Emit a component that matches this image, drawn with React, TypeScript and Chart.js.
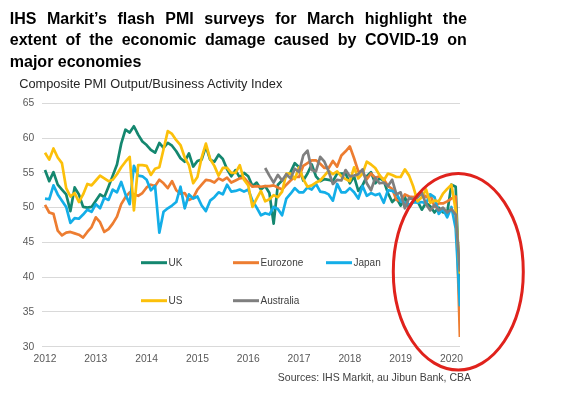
import React, { useEffect, useRef } from 'react';
import { Chart, registerables } from 'chart.js';

Chart.register(...registerables);

// ---- Data (monthly, Jan 2012 = index 0 ... Mar 2020 = index 98) ----
const yearLabels = ['2012', '2013', '2014', '2015', '2016', '2017', '2018', '2019', '2020'];
const yTickValues = [30, 35, 40, 45, 50, 55, 60, 65];

const ukValues = [
  55.4, 53.8, 55.1, 53.3, 52.6, 51.9, 49.5, 52.9, 51.9, 50.1, 50.0, 50.1,
  51.0, 51.9, 51.5, 53.0, 54.6, 56.2, 59.2, 61.2, 60.8, 61.7, 60.5, 59.5,
  59.0, 58.3, 57.9, 59.3, 58.6, 59.3, 58.9, 58.1, 57.1, 56.6, 57.8, 55.9,
  56.7, 56.9, 58.8, 56.9, 56.6, 57.6, 57.0, 55.5, 54.5, 55.4, 54.3, 55.0,
  54.5, 53.1, 53.6, 52.6, 53.1, 52.1, 47.7, 53.3, 53.9, 54.5, 55.1, 56.4,
  55.8, 53.9, 54.9, 56.2, 54.5, 53.8, 54.1, 54.0, 53.8, 54.9, 54.9, 54.9,
  53.5, 54.5, 52.4, 53.2, 54.5, 55.1, 53.5, 54.2, 53.9, 52.1, 50.8, 51.4,
  50.3, 51.5, 50.0, 50.9, 50.9, 49.7, 50.7, 50.2, 49.3, 50.0, 49.3, 49.3,
  53.3, 53.0, 37.1,
];

const eurozoneValues = [
  50.4, 49.3, 49.1, 46.7, 46.0, 46.4, 46.5, 46.3, 46.1, 45.7, 46.5, 47.2,
  48.6, 47.9, 46.5, 46.9, 47.7, 48.7, 50.5, 51.5, 52.2, 51.9, 51.7, 52.1,
  52.9, 53.3, 53.1, 54.0, 53.5, 52.8, 53.8, 52.5, 52.0, 52.1, 51.1, 51.4,
  52.6, 53.3, 54.0, 53.9, 53.6, 54.2, 53.9, 54.3, 53.6, 53.9, 54.2, 54.3,
  53.6, 53.0, 53.1, 53.0, 53.1, 53.1, 53.2, 52.9, 52.6, 53.3, 53.9, 54.4,
  54.4, 56.0, 56.4, 56.8, 56.8, 56.3, 55.7, 55.7, 56.7, 55.9, 57.5, 58.1,
  58.8, 57.1, 55.2, 55.1, 54.1, 54.9, 54.3, 54.5, 54.1, 53.1, 52.7, 51.1,
  51.0, 51.9, 51.6, 51.5, 51.8, 52.2, 51.5, 51.9, 50.1, 50.6, 50.6, 50.9,
  51.3, 51.6, 31.4,
];

const japanValues = [
  51.3, 51.2, 53.2, 51.9, 51.0, 50.1, 47.8, 48.5, 48.4, 49.0, 49.7, 49.4,
  50.5, 49.9, 51.4, 51.1, 52.6, 52.2, 53.7, 51.9, 50.5, 56.0, 54.6, 54.5,
  54.0, 52.5, 53.1, 46.4, 49.4, 49.9, 50.3, 50.8, 53.0, 49.9, 51.9, 51.3,
  51.6, 50.3, 49.5, 51.0, 51.5, 52.2, 51.9, 53.3, 52.3, 52.4, 52.6, 52.3,
  52.6, 51.0, 50.0, 48.9, 49.2, 49.0, 50.1, 49.8, 48.9, 51.3, 52.0, 52.8,
  52.2, 52.2, 52.9, 52.6, 53.4, 52.3, 52.2, 51.9, 51.0, 53.4, 52.2, 52.2,
  52.8, 52.2, 51.3, 53.1, 51.7, 52.1, 51.8, 52.0, 50.7, 52.5, 52.4, 52.0,
  50.9, 50.7, 50.4, 50.8, 50.7, 50.8, 50.6, 51.9, 51.5, 49.1, 49.8, 48.6,
  50.1, 47.0, 35.8,
];

const usValues = [
  57.9, 56.9, 58.5, 57.2, 56.4, 52.8, 51.6, 52.1, 50.8, 51.9, 53.4, 53.2,
  53.9, 54.6, 54.2, 53.8, 54.0, 54.8, 55.8, 56.6, 57.3, 49.6, 56.1, 56.1,
  56.0, 54.7, 55.6, 55.8, 58.4, 61.0, 60.6, 59.7, 59.0, 57.2, 56.1, 53.5,
  54.4, 57.2, 59.2, 57.0, 56.0, 54.6, 55.7, 55.7, 55.0, 55.0, 56.1, 54.0,
  53.2, 50.1, 51.3, 52.4, 50.9, 51.2, 51.8, 51.5, 52.3, 54.9, 54.9, 54.1,
  55.8, 54.1, 53.0, 53.2, 53.6, 53.9, 54.6, 55.3, 54.8, 55.2, 54.5, 54.1,
  53.8, 55.8, 54.2, 54.9, 56.6, 56.2, 55.7, 54.7, 53.9, 54.9, 54.7, 54.4,
  54.4, 55.5, 54.6, 53.0, 50.9, 51.5, 52.6, 50.7, 51.0, 50.9, 52.0, 52.7,
  53.3, 49.6, 40.5,
];

// Australia series begins May 2016 (index 52)
const australiaStartIndex = 52;
const australiaValues = [
  55.7, 54.6, 53.6, 54.7, 53.9, 54.8, 54.2, 55.6,
  55.1, 57.5, 58.2, 55.4, 55.2, 57.3, 56.6, 55.2, 53.4, 54.0, 53.9, 55.4,
  54.5, 54.6, 54.8, 55.5, 53.5, 52.5, 54.3, 53.5, 53.6, 53.1, 54.0, 51.9,
  52.2, 49.9, 51.4, 51.2, 51.5, 52.1, 50.5, 49.6, 50.4, 49.6, 50.0, 49.3,
  49.8, 49.0, 40.8,
];

const seriesNames = ['UK', 'Eurozone', 'Japan', 'US', 'Australia'];
const seriesColors = ['#14876f', '#ed7d31', '#13aee8', '#fcc00a', '#7f7f7f'];

const FONT = '"Liberation Sans", Arial, Helvetica, sans-serif';

const toPoints = (values: number[], start = 0) => values.map((y, k) => ({ x: start + k, y }));

const legendLayout = [
  { x: 141, y: 262.7 },
  { x: 233, y: 262.7 },
  { x: 326, y: 262.7 },
  { x: 141, y: 300.7 },
  { x: 233, y: 300.7 },
];

const overlayPlugin = {
  id: 'overlay',
  afterDraw(chart: any) {
    const ctx = chart.ctx as CanvasRenderingContext2D;
    ctx.save();
    // legend
    ctx.font = `10px ${FONT}`;
    ctx.textBaseline = 'middle';
    ctx.textAlign = 'left';
    seriesNames.forEach((name, k) => {
      const p = legendLayout[k];
      ctx.beginPath();
      ctx.moveTo(p.x, p.y);
      ctx.lineTo(p.x + 26, p.y);
      ctx.strokeStyle = seriesColors[k];
      ctx.lineWidth = 3;
      ctx.lineCap = 'butt';
      ctx.stroke();
      ctx.fillStyle = '#404040';
      ctx.fillText(name, p.x + 27.5, p.y + 0.5);
    });
    // red highlight ellipse
    ctx.beginPath();
    ctx.ellipse(458.3, 271.7, 65, 98.3, 0, 0, Math.PI * 2);
    ctx.strokeStyle = '#e0221c';
    ctx.lineWidth = 3;
    ctx.stroke();
    ctx.restore();
  },
};

export default function App() {
  const ref = useRef<HTMLCanvasElement>(null);

  useEffect(() => {
    if (!ref.current) return;
    const allSeries = [
      toPoints(ukValues),
      toPoints(eurozoneValues),
      toPoints(japanValues),
      toPoints(usValues),
      toPoints(australiaValues, australiaStartIndex),
    ];
    const datasets = allSeries.map((data, k) => ({
      label: seriesNames[k],
      data,
      borderColor: seriesColors[k],
      backgroundColor: seriesColors[k],
      borderWidth: 2.7,
      pointRadius: 0,
      tension: 0,
      fill: false,
      borderJoinStyle: 'round' as const,
      order: seriesNames.length - k,
    }));

    const chart = new Chart(ref.current, {
      type: 'line',
      data: { datasets },
      options: {
        responsive: false,
        animation: false,
        events: [],
        layout: { padding: { left: 0, top: 103.3, right: 101, bottom: 0 } },
        plugins: {
          legend: { display: false },
          title: { display: false },
          tooltip: { enabled: false },
        },
        scales: {
          x: {
            type: 'linear',
            min: -0.71,
            max: 98.02,
            afterBuildTicks: (axis: any) => {
              axis.ticks = yearLabels.map((_, k) => ({ value: k * 12 }));
            },
            afterFit: (axis: any) => {
              axis.height = 397 - 346.7;
            },
            ticks: {
              autoSkip: false,
              maxRotation: 0,
              padding: 6,
              color: '#595959',
              font: { family: FONT, size: 10.3 },
              callback: (value: any) => yearLabels[Math.round(Number(value) / 12)],
            },
            grid: { display: false, drawTicks: false },
            border: { display: false },
          },
          y: {
            min: 30,
            max: 65,
            afterBuildTicks: (axis: any) => {
              axis.ticks = yTickValues.map((v) => ({ value: v }));
            },
            afterFit: (axis: any) => {
              axis.width = 42;
            },
            ticks: {
              padding: 7.7,
              color: '#595959',
              font: { family: FONT, size: 10.3 },
            },
            grid: { color: '#d9d9d9', lineWidth: 1, drawTicks: false },
            border: { display: false },
          },
        },
      } as any,
      plugins: [overlayPlugin],
    });
    return () => chart.destroy();
  }, []);

  return (
    <div
      style={{
        position: 'absolute',
        left: 0,
        top: 0,
        width: 561,
        height: 397,
        background: '#ffffff',
        overflow: 'hidden',
      }}
    >
      <canvas
        ref={ref}
        width={561}
        height={397}
        style={{ position: 'absolute', left: 0, top: 0, width: 561, height: 397 }}
      />
      <div
        style={{
          position: 'absolute',
          left: 9.8,
          top: 7.6,
          width: 457,
          font: `bold 16px ${FONT}`,
          lineHeight: '21.7px',
          color: '#000000',
        }}
      >
        <div style={{ textAlign: 'justify', textAlignLast: 'justify', whiteSpace: 'nowrap' as any }}>
          IHS Markit’s flash PMI surveys for March highlight the
        </div>
        <div style={{ textAlign: 'justify', textAlignLast: 'justify' }}>
          extent of the economic damage caused by COVID-19 on
        </div>
        <div style={{ textAlign: 'left' }}>major economies</div>
      </div>
      <div
        style={{
          position: 'absolute',
          left: 19.2,
          top: 75.8,
          font: `12.8px ${FONT}`,
          lineHeight: '15px',
          color: '#262626',
          whiteSpace: 'nowrap',
        }}
      >
        Composite PMI Output/Business Activity Index
      </div>
      <div
        style={{
          position: 'absolute',
          right: 90,
          top: 371,
          font: `10.5px ${FONT}`,
          lineHeight: '12px',
          color: '#404040',
          whiteSpace: 'nowrap',
          textAlign: 'right',
        }}
      >
        Sources: IHS Markit, au Jibun Bank, CBA
      </div>
    </div>
  );
}
